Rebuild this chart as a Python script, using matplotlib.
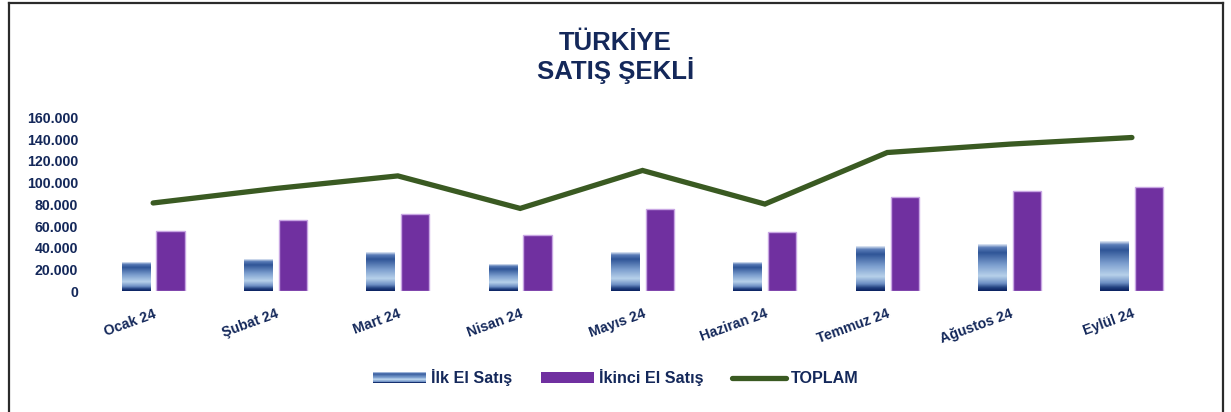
import numpy as np
import matplotlib
matplotlib.use("Agg")
import matplotlib.pyplot as plt
from matplotlib.colors import LinearSegmentedColormap
from matplotlib.legend_handler import HandlerBase
from matplotlib.patches import Rectangle, Patch
from matplotlib.lines import Line2D
from matplotlib.ticker import FuncFormatter

# data
months = ["Ocak 24", "Şubat 24", "Mart 24", "Nisan 24", "Mayıs 24",
          "Haziran 24", "Temmuz 24", "Ağustos 24", "Eylül 24"]
ilk_el = [26000, 29000, 35000, 24400, 35700, 26000, 41200, 42800, 45200]
ikinci_el = [55400, 65700, 71300, 52000, 75600, 54400, 86600, 92700, 96400]
toplam = [a + b for a, b in zip(ilk_el, ikinci_el)]
yticks = [0, 20000, 40000, 60000, 80000, 100000, 120000, 140000, 160000]

NAVY = "#14285A"
PURPLE = "#7030A0"
GREEN = "#3A5A22"
FONT = "Liberation Sans"

# gradient used by Excel for the "İlk El" bars (top -> bottom)
grad = LinearSegmentedColormap.from_list("ilk", [
    (0.00, "#e3ebf6"), (0.07, "#5b7db8"), (0.18, "#2f5597"),
    (0.45, "#7d9fcf"), (0.68, "#b7d1ea"), (0.84, "#6d8fc4"),
    (0.93, "#21407f"), (1.00, "#0a2160")])


class GradientHandler(HandlerBase):
    def create_artists(self, legend, orig_handle, xdescent, ydescent,
                       width, height, fontsize, trans):
        n = 14
        arts = []
        for i in range(n):
            frac = 1 - (i + 0.5) / n
            arts.append(Rectangle((-xdescent, -ydescent + height * i / n),
                                  width, height / n + 0.3, facecolor=grad(frac),
                                  edgecolor="none", transform=trans))
        return arts


fig = plt.figure(figsize=(12.31, 4.12), dpi=100)
ax = fig.add_axes([0.0747, 0.2925, 0.8945, 0.4223])

x = np.arange(len(months))
w = 0.23
off = 0.142

bars1 = ax.bar(x - off, ilk_el, width=w, color="none", edgecolor="none")
col = grad(np.linspace(0, 1, 200))[:, None, :3]
for b in bars1:
    x0, y0 = b.get_x(), b.get_y()
    ax.imshow(col, extent=[x0, x0 + b.get_width(), y0, y0 + b.get_height()],
              aspect="auto", interpolation="bilinear", zorder=2)

ax.bar(x + off, ikinci_el, width=w, color=PURPLE, edgecolor="#c8a6e3",
       linewidth=1, zorder=2)
ax.plot(x, toplam, color=GREEN, linewidth=3.8, solid_capstyle="round",
        solid_joinstyle="miter", zorder=3)

ax.set_xlim(-0.5, len(months) - 0.5)
ax.set_ylim(0, 160000)
ax.set_yticks(yticks)
ax.yaxis.set_major_formatter(FuncFormatter(lambda v, p: f"{int(v):,}".replace(",", ".")))
ax.set_xticks(x)
ax.set_xticklabels(months, rotation=20, ha="right", rotation_mode="anchor")
ax.tick_params(axis="both", length=0, colors=NAVY, labelsize=10.2)
ax.tick_params(axis="y", pad=10)
ax.tick_params(axis="x", pad=11)
for lab in ax.get_xticklabels() + ax.get_yticklabels():
    lab.set_fontfamily(FONT)
    lab.set_fontweight("bold")
for s in ax.spines.values():
    s.set_visible(False)

fig.text(0.5, 0.86, "TÜRKİYE\nSATIŞ ŞEKLİ", ha="center", va="center",
         fontsize=18.5, fontweight="bold", color=NAVY, family=FONT,
         linespacing=1.12)

handles = [Patch(label="İlk El Satış"),
           Patch(facecolor=PURPLE, label="İkinci El Satış"),
           Line2D([], [], color=GREEN, linewidth=3.8, solid_capstyle="round",
                  label="TOPLAM")]
leg = fig.legend(handles=handles, loc="center", bbox_to_anchor=(0.5, 0.083),
                 ncol=3, frameon=False, handlelength=3.3, handletextpad=0.3,
                 columnspacing=1.8, handler_map={handles[0]: GradientHandler()},
                 prop={"family": FONT, "weight": "bold", "size": 11.6})
for t in leg.get_texts():
    t.set_color(NAVY)

# outer frame (left, top, right)
fx0, fx1, fy = 8.5 / 1231, 1222.5 / 1231, 1 - 2.5 / 412
for xs, ys in [([fx0, fx0], [0, fy]), ([fx0, fx1], [fy, fy]), ([fx1, fx1], [fy, 0])]:
    fig.add_artist(Line2D(xs, ys, color="#2b2b2b", linewidth=1.6,
                          transform=fig.transFigure))

fig.savefig("out.png", dpi=100)
